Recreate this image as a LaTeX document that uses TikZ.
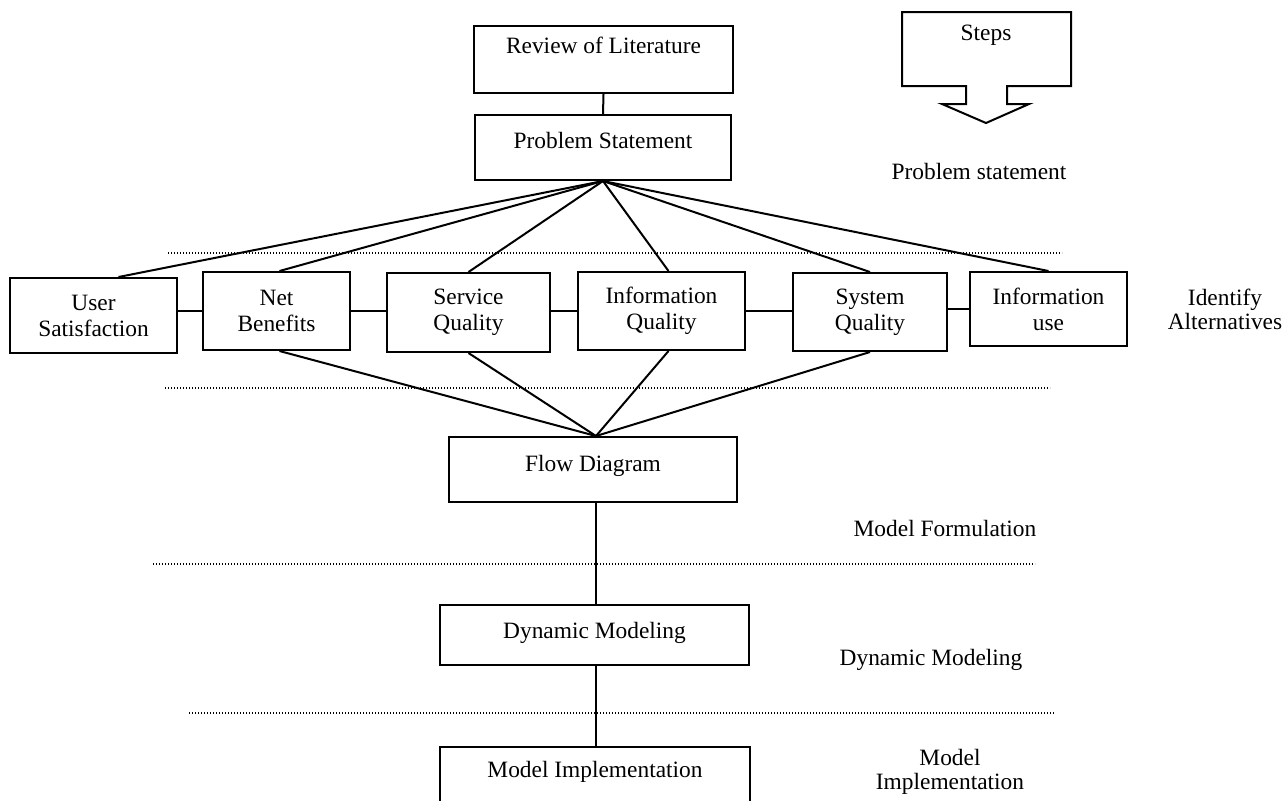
\documentclass[tikz,border=0pt]{standalone}
\usepackage{fontspec}
\setmainfont{Liberation Serif}
\usetikzlibrary{calc}
\begin{document}
\begin{tikzpicture}[x=0.5pt,y=-0.5pt,
  box/.style={draw,line width=1pt,inner sep=0pt,align=center,font=\fontsize{11.7pt}{13pt}\selectfont},
  lbl/.style={align=center,inner sep=0pt,font=\fontsize{11.7pt}{12pt}\selectfont},
  conn/.style={line width=1pt},
  sepline/.style={line width=0.7pt,dash pattern=on 0.6pt off 0.9pt}]
\clip (0,0) rectangle (1284,800);
\fill[white] (0,0) rectangle (1284,800);
% main column
\node[box,minimum width=129.5pt,minimum height=33.5pt,text height=13.75pt,text depth=19.75pt] (rl) at (603.5,59.5) {Review of Literature};
\node[box,minimum width=128pt,minimum height=32.5pt,text height=16.75pt,text depth=15.75pt] (ps) at (603,147.5) {Problem Statement};
\node[box,minimum width=144pt,minimum height=32.5pt,text height=17.25pt,text depth=15.25pt] (fd) at (593,469.5) {Flow Diagram};
\node[box,minimum width=154.5pt,minimum height=30pt,text height=16.75pt,text depth=13.25pt] (dm) at (594.5,635) {Dynamic Modeling};
\node[box,minimum width=155pt,minimum height=41.5pt,text height=15.25pt,text depth=26.25pt] (mi) at (595,788.5) {Model Implementation};
% row of alternatives
\node[box,minimum width=83.5pt,minimum height=37.5pt] (us) at (93.5,315.5) {User\\Satisfaction};
\node[box,minimum width=73.5pt,minimum height=39pt] (nb) at (276.5,311) {Net\\Benefits};
\node[box,minimum width=81.5pt,minimum height=39.5pt] (sq) at (468.5,312.5) {Service\\Quality};
\node[box,minimum width=83.5pt,minimum height=39pt] (iq) at (661.5,311) {Information\\Quality};
\node[box,minimum width=77pt,minimum height=39pt] (sy) at (870,312) {System\\Quality};
\node[box,minimum width=78.5pt,minimum height=37pt] (iu) at (1048.5,309) {Information\\use};
% steps arrow
\draw[line width=1pt,line join=miter] (902,12) -- (1071,12) -- (1071,86) -- (1007,86) -- (1007,104) -- (1029,104) -- (986,123) -- (942,104) -- (966,104) -- (966,86) -- (902,86) -- cycle;
\node[lbl] (steps) at (986,35) {Steps};
% stage labels
\node[lbl] (l1) at (979,171) {Problem statement};
\node[lbl] (l2) at (1225,309) {Identify\\Alternatives};
\node[lbl] (l3) at (945,528) {Model Formulation};
\node[lbl] (l4) at (931,660) {Dynamic Modeling};
\node[lbl] (l5) at (950,772) {Model\\Implementation};
% dotted separators
\draw[sepline] (168,253) -- (1062,253);
\draw[sepline] (165,388) -- (1050,388);
\draw[sepline] (153,564) -- (1035,564);
\draw[sepline] (189,713) -- (1055,713);
% connectors
\coordinate (fdtop) at ($(fd.north)+(3,0)$);
\draw[conn] (rl.south) -- (ps.north);
\draw[conn] (ps.south) -- ($(us.north)+(25,0)$);
\draw[conn] (ps.south) -- ($(nb.north)+(3,0)$);
\draw[conn] (ps.south) -- (sq.north);
\draw[conn] (ps.south) -- ($(iq.north)+(7,0)$);
\draw[conn] (ps.south) -- (sy.north);
\draw[conn] (ps.south) -- (iu.north);
\draw[conn] (nb.west -| us.east) -- (nb.west);
\draw[conn] (nb.east) -- (sq.west |- nb.east);
\draw[conn] (sq.east |- iq.west) -- (iq.west);
\draw[conn] (iq.east) -- (sy.west |- iq.east);
\draw[conn] (sy.east |- iu.west) -- (iu.west);
\draw[conn] ($(nb.south)+(3,0)$) -- (fdtop);
\draw[conn] (sq.south) -- (fdtop);
\draw[conn] ($(iq.south)+(7,0)$) -- (fdtop);
\draw[conn] (sy.south) -- (fdtop);
\draw[conn] (fdtop |- fd.south) -- (fdtop |- dm.north);
\draw[conn] (fdtop |- dm.south) -- (fdtop |- mi.north);
\end{tikzpicture}
\end{document}
